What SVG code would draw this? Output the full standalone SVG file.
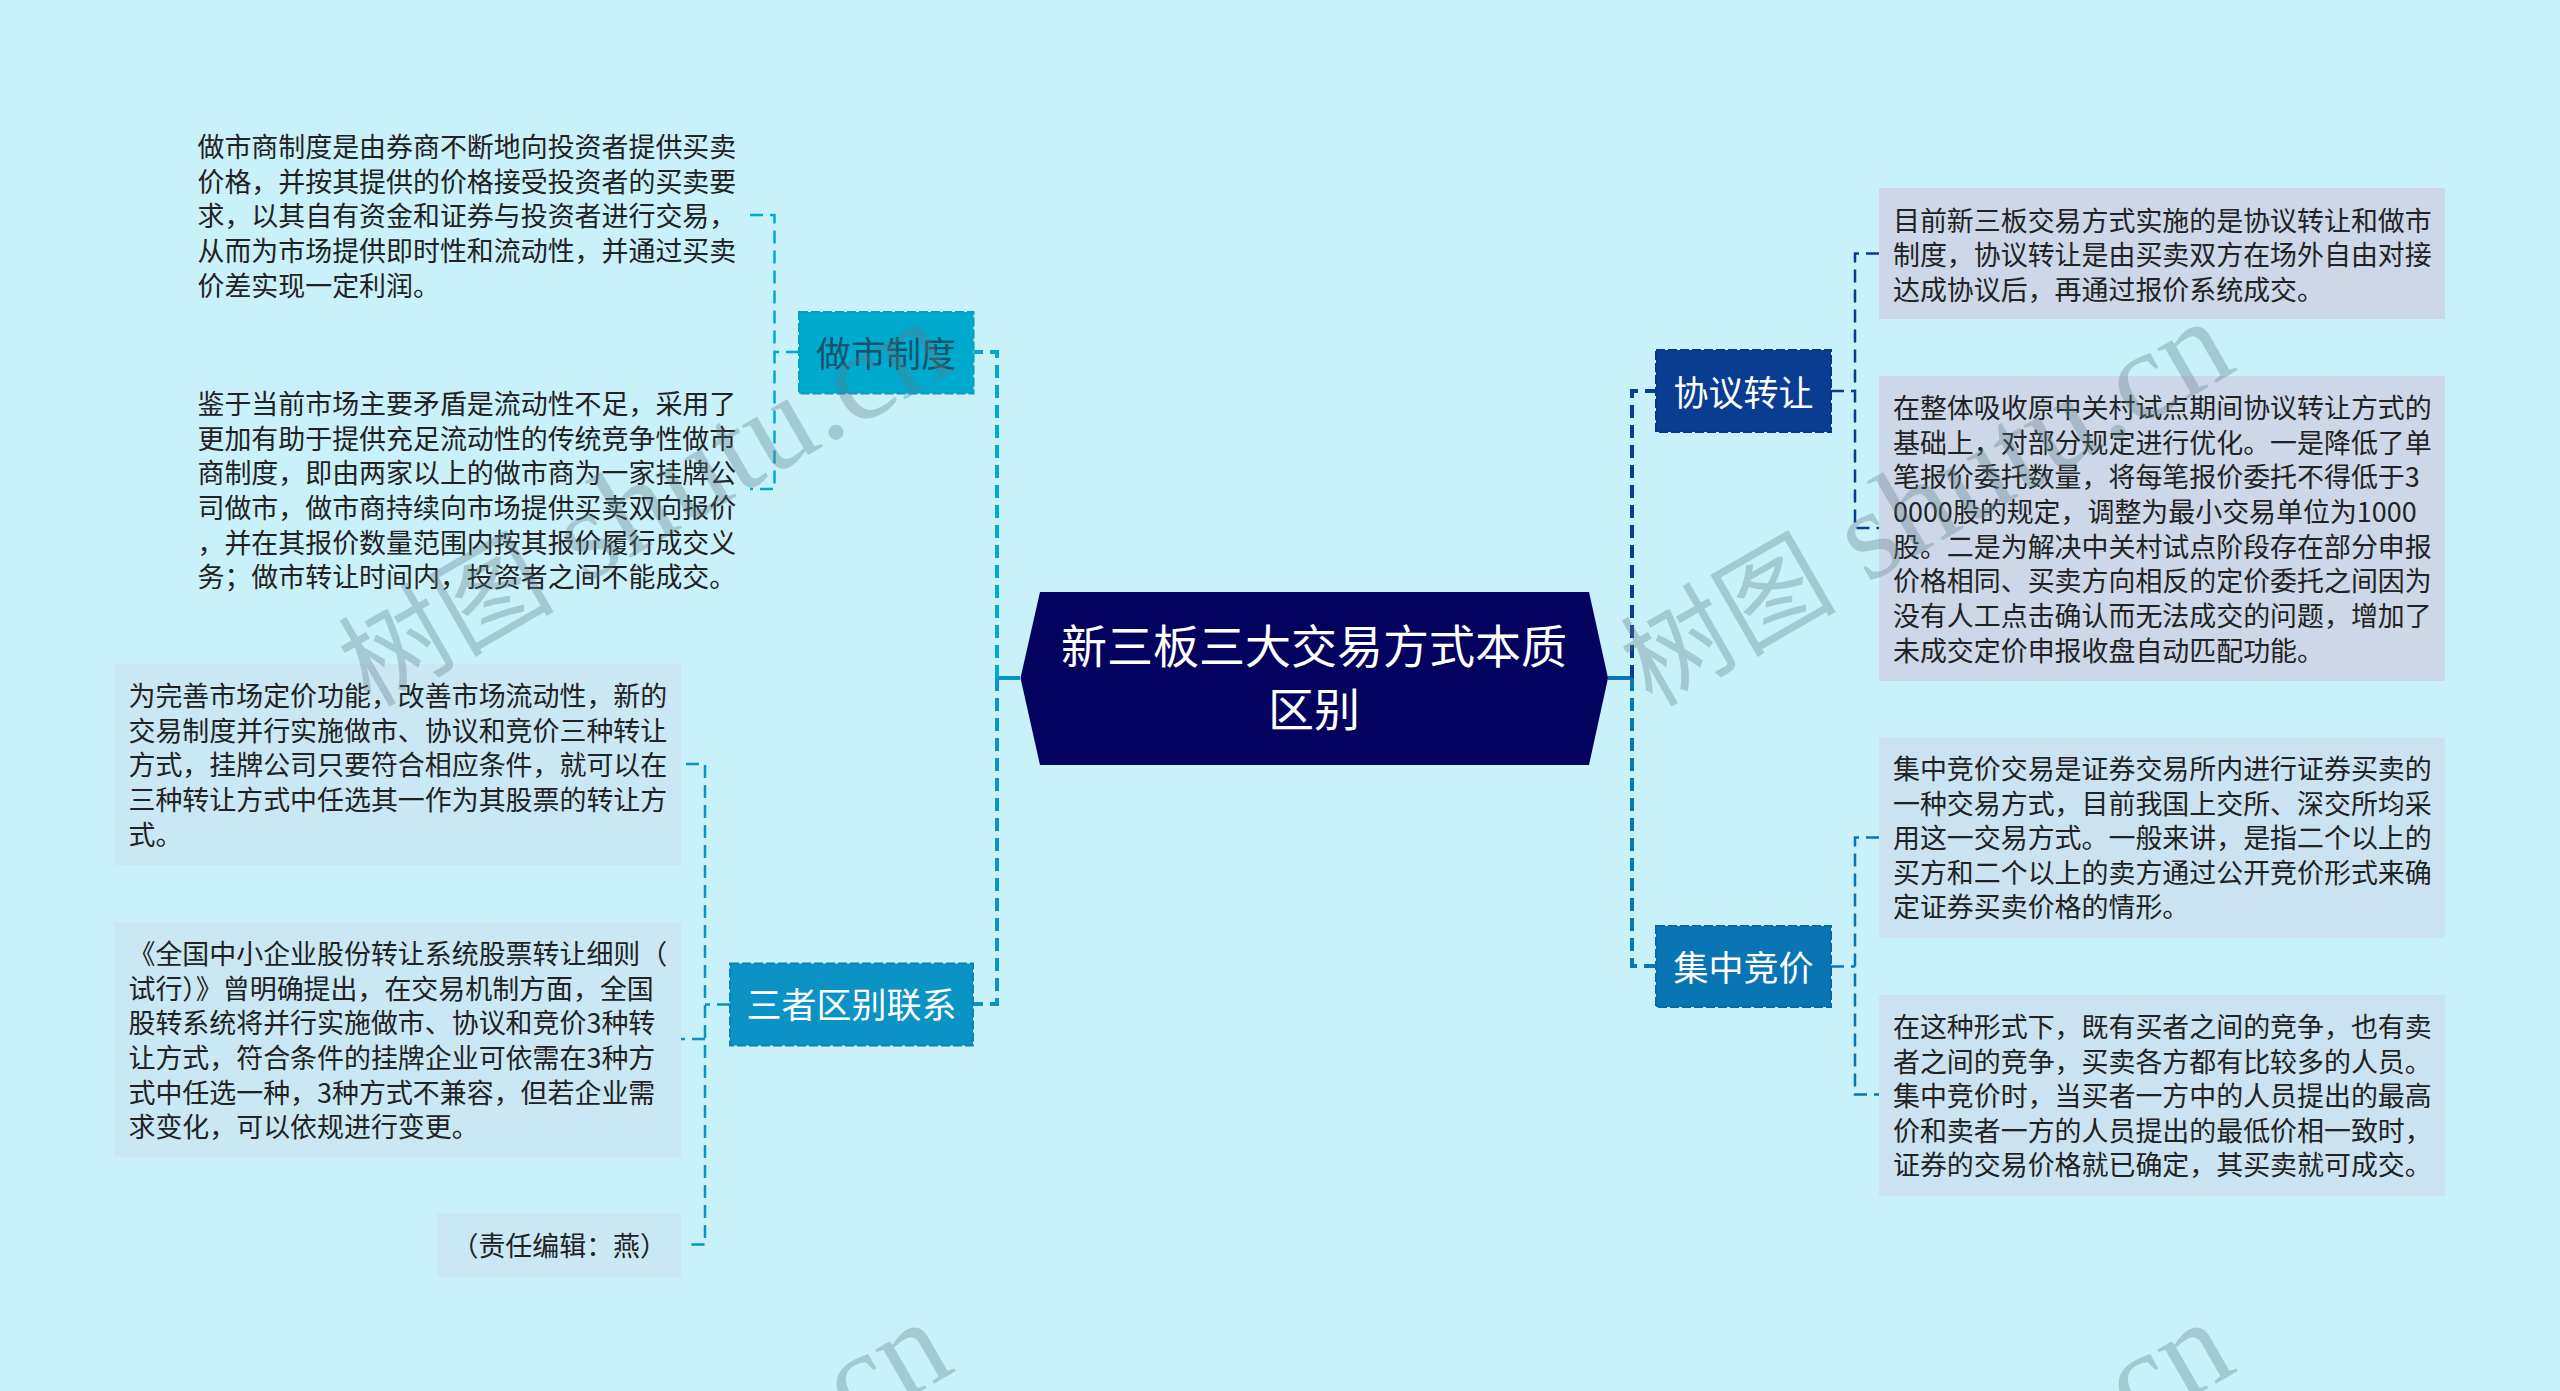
<svg xmlns="http://www.w3.org/2000/svg" width="2560" height="1391" viewBox="0 0 2560 1391">
<style>
text{font-family:"Noto Sans CJK SC","Liberation Sans",sans-serif}
.t{font-size:26.95px;fill:#222}
.n{font-size:35px;text-anchor:middle}
.w{fill:#fff}
.c{fill:none;stroke-dasharray:13 7}
.m{stroke-width:4}
.s{stroke-width:2.5}
.b{stroke-width:2;stroke-dasharray:9 3}
.wm{font-family:"Liberation Serif","Noto Sans CJK SC",serif;font-size:128px;fill:#5b7b85;opacity:.33}
.wm .h{font-family:"Noto Sans CJK SC",serif;font-size:108px}
</style>
<rect width="2560" height="1391" fill="#c9f1f9"/>
<g id="connectors">
<path d="M1020 678H997" fill="none" stroke="#0a93c4" stroke-width="4"/>
<path class="c m" d="M997 678V352H974" stroke="#00aacf"/>
<path class="c m" d="M997 678V1004H973" stroke="#0a93c4"/>
<path d="M1608 678H1632" fill="none" stroke="#0a75b5" stroke-width="4"/>
<path class="c m" d="M1632 678V391H1656" stroke="#0a3d91"/>
<path class="c m" d="M1632 678V966H1656" stroke="#0a75b5"/>
<path class="c s" d="M799 352H774.500M750 215H774.500V489H750" stroke="#00aacf"/>
<path class="c s" d="M730 1004.500H705M686 764H705V1244.500H686M705 1039H681" stroke="#0a93c4"/>
<path class="c s" d="M1831 391H1855M1879 253.500H1855V528H1879" stroke="#0a3d91"/>
<path class="c s" d="M1831 966.500H1855M1879 837.500H1855V1094.500H1879" stroke="#0a75b5"/>
</g>
<g id="root">
<polygon points="1020.500,678 1040,592 1589,592 1608,678 1589,765 1040,765" fill="#03035f"/>
<text x="1314" y="663" font-size="46" text-anchor="middle" fill="#fff">新三板三大交易方式本质</text>
<text x="1314" y="726" font-size="46" text-anchor="middle" fill="#fff">区别</text>
</g>
<g id="branch-zuoshi">
<rect class="b" x="799" y="312" width="174.500" height="81.500" fill="#00aacf" stroke="#0a9cbe"/>
<text class="n" x="886" y="366.500" fill="#15536b">做市制度</text>
</g>
<g id="branch-sanzhe">
<rect class="b" x="730" y="963.500" width="243" height="82" fill="#0a93c4" stroke="#0a85b2"/>
<text class="n w" x="851.500" y="1018">三者区别联系</text>
</g>
<g id="branch-xieyi">
<rect class="b" x="1656" y="350" width="175" height="82" fill="#0a3d91" stroke="#0a3580"/>
<text class="n w" x="1743.500" y="405.500">协议转让</text>
</g>
<g id="branch-jizhong">
<rect class="b" x="1656" y="926" width="175" height="81" fill="#0a75b5" stroke="#0a69a3"/>
<text class="n w" x="1743.500" y="980.500">集中竞价</text>
</g>
<g id="leaf-zuoshi-1">
<text class="t" x="197.500" y="157">做市商制度是由券商不断地向投资者提供买卖</text>
<text class="t" x="197.500" y="191.500">价格，并按其提供的价格接受投资者的买卖要</text>
<text class="t" x="197.500" y="226">求，以其自有资金和证券与投资者进行交易，</text>
<text class="t" x="197.500" y="260.500">从而为市场提供即时性和流动性，并通过买卖</text>
<text class="t" x="197.500" y="295.500">价差实现一定利润。</text>
</g>
<g id="leaf-zuoshi-2">
<text class="t" x="197.500" y="414">鉴于当前市场主要矛盾是流动性不足，采用了</text>
<text class="t" x="197.500" y="448.500">更加有助于提供充足流动性的传统竞争性做市</text>
<text class="t" x="197.500" y="483">商制度，即由两家以上的做市商为一家挂牌公</text>
<text class="t" x="197.500" y="518">司做市，做市商持续向市场提供买卖双向报价</text>
<text class="t" x="197.500" y="552.500">，并在其报价数量范围内按其报价履行成交义</text>
<text class="t" x="197.500" y="587">务；做市转让时间内，投资者之间不能成交。</text>
</g>
<g id="leaf-sanzhe-1">
<rect x="114" y="664" width="567" height="201" fill="#c9e8f3"/>
<text class="t" x="128.500" y="706">为完善市场定价功能，改善市场流动性，新的</text>
<text class="t" x="128.500" y="740.500">交易制度并行实施做市、协议和竞价三种转让</text>
<text class="t" x="128.500" y="775">方式，挂牌公司只要符合相应条件，就可以在</text>
<text class="t" x="128.500" y="810">三种转让方式中任选其一作为其股票的转让方</text>
<text class="t" x="128.500" y="844.500">式。</text>
</g>
<g id="leaf-sanzhe-2">
<rect x="114" y="922" width="567" height="235" fill="#c9e8f3"/>
<text class="t" x="128.500" y="964">《全国中小企业股份转让系统股票转让细则（</text>
<text class="t" x="128.500" y="998.500">试行）》曾明确提出，在交易机制方面，全国</text>
<text class="t" x="128.500" y="1033">股转系统将并行实施做市、协议和竞价3种转</text>
<text class="t" x="128.500" y="1068">让方式，符合条件的挂牌企业可依需在3种方</text>
<text class="t" x="128.500" y="1102.500">式中任选一种，3种方式不兼容，但若企业需</text>
<text class="t" x="128.500" y="1137">求变化，可以依规进行变更。</text>
</g>
<g id="leaf-sanzhe-3">
<rect x="437.500" y="1213" width="243.500" height="64" fill="#c9e8f3"/>
<text class="t" x="451.500" y="1256">（责任编辑：燕）</text>
</g>
<g id="leaf-xieyi-1">
<rect x="1879" y="188" width="566" height="131" fill="#cdd7e8"/>
<text class="t" x="1893" y="230.500">目前新三板交易方式实施的是协议转让和做市</text>
<text class="t" x="1893" y="265">制度，协议转让是由买卖双方在场外自由对接</text>
<text class="t" x="1893" y="299.500">达成协议后，再通过报价系统成交。</text>
</g>
<g id="leaf-xieyi-2">
<rect x="1879" y="376" width="566" height="305" fill="#cdd7e8"/>
<text class="t" x="1893" y="418">在整体吸收原中关村试点期间协议转让方式的</text>
<text class="t" x="1893" y="452.500">基础上，对部分规定进行优化。一是降低了单</text>
<text class="t" x="1893" y="487">笔报价委托数量，将每笔报价委托不得低于3</text>
<text class="t" x="1893" y="522">0000股的规定，调整为最小交易单位为1000</text>
<text class="t" x="1893" y="556.500">股。二是为解决中关村试点阶段存在部分申报</text>
<text class="t" x="1893" y="591">价格相同、买卖方向相反的定价委托之间因为</text>
<text class="t" x="1893" y="626">没有人工点击确认而无法成交的问题，增加了</text>
<text class="t" x="1893" y="660.500">未成交定价申报收盘自动匹配功能。</text>
</g>
<g id="leaf-jizhong-1">
<rect x="1879" y="737.500" width="566" height="200.500" fill="#cbe3f0"/>
<text class="t" x="1893" y="779">集中竞价交易是证券交易所内进行证券买卖的</text>
<text class="t" x="1893" y="813.500">一种交易方式，目前我国上交所、深交所均采</text>
<text class="t" x="1893" y="848">用这一交易方式。一般来讲，是指二个以上的</text>
<text class="t" x="1893" y="882.500">买方和二个以上的卖方通过公开竞价形式来确</text>
<text class="t" x="1893" y="917">定证券买卖价格的情形。</text>
</g>
<g id="leaf-jizhong-2">
<rect x="1879" y="995" width="566" height="201" fill="#cbe3f0"/>
<text class="t" x="1893" y="1037">在这种形式下，既有买者之间的竞争，也有卖</text>
<text class="t" x="1893" y="1071.500">者之间的竞争，买卖各方都有比较多的人员。</text>
<text class="t" x="1893" y="1106">集中竞价时，当买者一方中的人员提出的最高</text>
<text class="t" x="1893" y="1140.500">价和卖者一方的人员提出的最低价相一致时，</text>
<text class="t" x="1893" y="1175">证券的交易价格就已确定，其买卖就可成交。</text>
</g>
<g id="watermarks">
<text class="wm" transform="translate(370 708) rotate(-30)"><tspan class="h">树图</tspan> shutu.cn</text>
<text class="wm" transform="translate(1652 708) rotate(-30)"><tspan class="h">树图</tspan> shutu.cn</text>
<text class="wm" transform="translate(370 1709) rotate(-30)"><tspan class="h">树图</tspan> shutu.cn</text>
<text class="wm" transform="translate(1652 1709) rotate(-30)"><tspan class="h">树图</tspan> shutu.cn</text>
</g>
</svg>
